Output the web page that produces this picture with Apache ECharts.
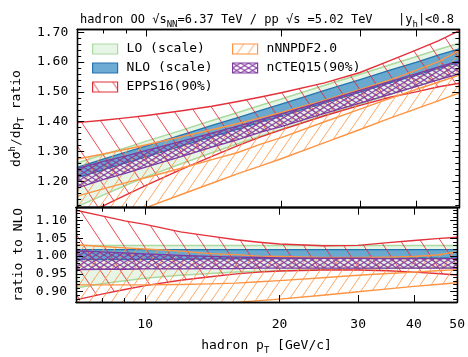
<!DOCTYPE html>
<html><head><meta charset="utf-8">
<script src="https://cdn.jsdelivr.net/npm/echarts@6/dist/echarts.min.js"></script>
<style>html,body{margin:0;padding:0;background:#fff}#c{width:468px;height:357px}</style>
</head><body><div id="c"></div>
<script>
// ---------- data ----------
const pT = [7, 8, 9, 10, 12, 14, 16, 18, 20, 25, 30, 35, 40, 45, 50];

// top panel: dsigma/dpT ratio OO/pp
const loLow   = [1.115,1.154,1.187,1.216,1.260,1.296,1.326,1.352,1.374,1.422,1.459,1.491,1.518,1.542,1.562];
const loHigh  = [1.262,1.290,1.313,1.335,1.372,1.404,1.431,1.455,1.476,1.522,1.559,1.591,1.618,1.643,1.663];
const nloLow  = [1.213,1.239,1.262,1.283,1.319,1.349,1.375,1.399,1.419,1.463,1.499,1.530,1.555,1.579,1.599];
const nloHigh = [1.247,1.275,1.298,1.319,1.356,1.388,1.414,1.438,1.459,1.505,1.541,1.573,1.599,1.624,1.644];
const eppsLow = [1.074,1.118,1.155,1.188,1.241,1.284,1.320,1.349,1.373,1.420,1.455,1.482,1.500,1.517,1.529];
const eppsHigh= [1.397,1.405,1.413,1.421,1.437,1.452,1.468,1.483,1.497,1.530,1.565,1.605,1.640,1.672,1.705];
const nnLow   = [1.028,1.060,1.087,1.113,1.157,1.194,1.226,1.252,1.276,1.330,1.374,1.412,1.443,1.471,1.497];
const nnMid   = [1.151,1.175,1.196,1.213,1.245,1.273,1.297,1.325,1.347,1.400,1.442,1.478,1.508,1.533,1.556];
const nnHigh  = [1.275,1.292,1.308,1.323,1.350,1.373,1.394,1.413,1.431,1.472,1.508,1.540,1.572,1.602,1.638];
const ctLow   = [1.178,1.206,1.228,1.249,1.284,1.315,1.340,1.365,1.384,1.428,1.462,1.492,1.518,1.541,1.560];
const ctHigh  = [1.243,1.267,1.286,1.304,1.335,1.362,1.385,1.407,1.426,1.469,1.505,1.534,1.560,1.584,1.604];

// bottom panel: ratio to NLO
const rLoLow   = [0.910,0.922,0.931,0.938,0.946,0.951,0.955,0.957,0.959,0.962,0.964,0.965,0.966,0.967,0.967];
const rLoHigh  = [1.030,1.030,1.030,1.030,1.030,1.030,1.030,1.030,1.030,1.030,1.030,1.030,1.030,1.030,1.030];
const rNloLow  = [0.990,0.990,0.990,0.991,0.991,0.992,0.992,0.993,0.993,0.994,0.994,0.995,0.995,0.995,0.995];
const rNloHigh = [1.018,1.018,1.018,1.018,1.018,1.018,1.018,1.018,1.018,1.018,1.018,1.018,1.018,1.018,1.018];
const rEppsLow = [0.877,0.893,0.906,0.917,0.932,0.942,0.950,0.955,0.958,0.961,0.961,0.959,0.955,0.951,0.947];
const rEppsHigh= [1.129,1.113,1.099,1.089,1.068,1.056,1.046,1.039,1.034,1.029,1.030,1.038,1.044,1.049,1.053];
const rNnLow   = [0.800,0.820,0.835,0.845,0.856,0.864,0.870,0.875,0.879,0.890,0.900,0.908,0.915,0.920,0.925];
const rNnMid   = [0.919,0.919,0.919,0.919,0.920,0.922,0.924,0.928,0.931,0.939,0.946,0.951,0.955,0.959,0.962];
const rNnHigh  = [1.032,1.027,1.023,1.020,1.014,1.007,1.004,1.000,0.999,0.996,0.996,0.997,0.999,1.003,1.012];
const rCtLow   = [0.962,0.963,0.963,0.964,0.964,0.965,0.965,0.966,0.966,0.966,0.966,0.966,0.966,0.966,0.966];
const rCtHigh  = [1.015,1.012,1.009,1.006,1.002,0.999,0.997,0.996,0.995,0.994,0.994,0.993,0.993,0.993,0.993];

// ticks
const xMajor = [10, 20, 30, 40, 50];
const xMinor = [8, 9];
const yTopMajor = [1.20, 1.30, 1.40, 1.50, 1.60, 1.70];
const yTopMinor = [1.12,1.14,1.16,1.18,1.22,1.24,1.26,1.28,1.32,1.34,1.36,1.38,1.42,1.44,1.46,1.48,1.52,1.54,1.56,1.58,1.62,1.64,1.66,1.68];
const yBotMajor = [0.90, 0.95, 1.00, 1.05, 1.10];
const yBotMinor = [0.88,0.89,0.91,0.92,0.93,0.94,0.96,0.97,0.98,0.99,1.01,1.02,1.03,1.04,1.06,1.07,1.08,1.09,1.11,1.12,1.13];

const names = ['LO (scale)', 'NLO (scale)', 'EPPS16(90%)', 'nNNPDF2.0', 'nCTEQ15(90%)'];

// ---------- styling ----------
const FONT = 'DejaVu Sans Mono';
const L = Math.log10;
const X0 = L(7), X1 = L(50);
const TOP = {min: 1.112, max: 1.709};
const BOT = {min: 0.871, max: 1.136};

function hatch(color, dirs, w, h, lw, bg) {
  const c = document.createElement('canvas');
  c.width = w; c.height = h;
  const g = c.getContext('2d');
  if (bg) { g.fillStyle = bg; g.fillRect(0, 0, w, h); }
  g.strokeStyle = color; g.lineWidth = lw;
  dirs.forEach(d => {
    for (let k = -1; k <= 1; k++) {
      g.beginPath();
      if (d === 'back') { g.moveTo(k * w - w, -h); g.lineTo(k * w + 2 * w, 2 * h); }
      else { g.moveTo(k * w - w, 2 * h); g.lineTo(k * w + 2 * w, -h); }
      g.stroke();
    }
  });
  return {image: c, repeat: 'repeat'};
}

const ST = {
  lo:   {fill: 'rgba(161,217,155,0.25)', stroke: 'rgba(161,214,150,0.9)', lw: 1.5},
  nlo:  {fill: 'rgba(74,150,201,0.8)', stroke: '#2474b0', lw: 1.3},
  epps: {fill: hatch('rgba(226,40,50,0.85)', ['back'], 20, 30, 1), stroke: '#e3303a', lw: 1.4},
  nn:   {fill: hatch('rgba(253,150,70,0.85)', ['fwd'], 11, 16, 1), stroke: '#fd9444', lw: 1.4},
  ct:   {fill: hatch('rgba(130,55,160,0.85)', ['fwd', 'back'], 8, 5, 1.3), stroke: '#7d3aa0', lw: 1.3}
};

function band(name, xi, yi, low, high, st, mid, z) {
  return {
    type: 'custom', name, xAxisIndex: xi, yAxisIndex: yi, clip: true, z: z,
    data: pT.map((p, i) => [L(p), low[i], high[i]]),
    encode: {x: 0, y: [1, 2]},
    itemStyle: {color: st.fill, borderColor: st.stroke, borderWidth: 1.2},
    renderItem: (params, api) => {
      if (params.dataIndex !== 0) return;
      const up = [], dn = [], md = [];
      for (let i = 0; i < pT.length; i++) {
        up.push(api.coord([L(pT[i]), high[i]]));
        dn.push(api.coord([L(pT[i]), low[i]]));
        if (mid) md.push(api.coord([L(pT[i]), mid[i]]));
      }
      const cs = params.coordSys;
      const kids = [
        {type: 'polygon', shape: {points: up.concat(dn.slice().reverse())}, style: {fill: st.fill, stroke: null}},
        {type: 'polyline', shape: {points: up}, style: {fill: null, stroke: st.stroke, lineWidth: st.lw}},
        {type: 'polyline', shape: {points: dn}, style: {fill: null, stroke: st.stroke, lineWidth: st.lw}}
      ];
      if (mid) kids.push({type: 'polyline', shape: {points: md}, style: {fill: null, stroke: st.stroke, lineWidth: st.lw}});
      return {type: 'group', children: kids,
        clipPath: {type: 'rect', shape: {x: cs.x, y: cs.y, width: cs.width, height: cs.height}}};
    }
  };
}

const rich = {
  sub: {fontFamily: FONT, fontSize: 9, verticalAlign: 'bottom', lineHeight: 18, padding: [5, 0, 0, 0]},
  sup: {fontFamily: FONT, fontSize: 9, verticalAlign: 'top', lineHeight: 18, padding: [0, 0, 5, 0]}
};

const grids = [
  {left: 76, right: 8.7, top: 29.5, height: 178.2, show: false},
  {left: 76, right: 8.7, top: 207.7, height: 94.3, show: false}
];

function xAx(gi, pos, vals, len, extra) {
  return Object.assign({
    type: 'value', gridIndex: gi, position: pos, min: X0, max: X1, z: 10,
    splitLine: {show: false},
    axisLine: {show: true, onZero: false, lineStyle: {color: '#000', width: 1.3}},
    axisTick: {show: true, inside: true, length: len, customValues: vals.map(L), lineStyle: {color: '#000', width: 1}},
    axisLabel: {show: false}
  }, extra || {});
}
function yAx(gi, pos, rng, vals, len, extra) {
  return Object.assign({
    type: 'value', gridIndex: gi, position: pos, min: rng.min, max: rng.max, z: 10,
    splitLine: {show: false},
    axisLine: {show: true, onZero: false, lineStyle: {color: '#000', width: 1.3}},
    axisTick: {show: true, inside: true, length: len, customValues: vals, lineStyle: {color: '#000', width: 1}},
    axisLabel: {show: false}
  }, extra || {});
}

const xAxes = [
  xAx(0, 'bottom', xMajor, 7),
  xAx(0, 'bottom', xMinor, 4),
  xAx(0, 'top', xMajor, 7),
  xAx(0, 'top', xMinor, 4),
  xAx(1, 'bottom', xMajor, 7, {
    axisLabel: {show: true, customValues: xMajor.map(L), formatter: v => String(Math.round(Math.pow(10, v))),
      fontFamily: FONT, fontSize: 13, color: '#000', margin: 16},
    name: 'hadron p{sub|T} [GeV/c]', nameLocation: 'middle', nameGap: 35,
    nameTextStyle: {fontFamily: FONT, fontSize: 13, color: '#000', rich: rich}
  }),
  xAx(1, 'bottom', xMinor, 4),
  xAx(1, 'top', xMajor, 7),
  xAx(1, 'top', xMinor, 4)
];

const yAxes = [
  yAx(0, 'left', TOP, yTopMajor, 7, {
    axisLabel: {show: true, customValues: yTopMajor, formatter: v => v.toFixed(2),
      fontFamily: FONT, fontSize: 13, color: '#000', margin: 9},
    name: 'dσ{sup|h}/dp{sub|T} ratio', nameLocation: 'middle', nameGap: 47, nameRotate: 90,
    nameTextStyle: {fontFamily: FONT, fontSize: 13, color: '#000', rich: rich}
  }),
  yAx(0, 'left', TOP, yTopMinor, 4),
  yAx(0, 'right', TOP, yTopMajor, 7),
  yAx(0, 'right', TOP, yTopMinor, 4),
  yAx(1, 'left', BOT, yBotMajor, 7, {
    axisLabel: {show: true, customValues: yBotMajor, formatter: v => v.toFixed(2),
      fontFamily: FONT, fontSize: 13, color: '#000', margin: 9},
    name: 'ratio to NLO', nameLocation: 'middle', nameGap: 47, nameRotate: 90,
    nameTextStyle: {fontFamily: FONT, fontSize: 13, color: '#000'}
  }),
  yAx(1, 'left', BOT, yBotMinor, 4),
  yAx(1, 'right', BOT, yBotMajor, 7),
  yAx(1, 'right', BOT, yBotMinor, 4)
];

const series = [
  band(names[0], 0, 0, loLow, loHigh, ST.lo, null, 2),
  band(names[1], 0, 0, nloLow, nloHigh, ST.nlo, null, 3),
  band(names[2], 0, 0, eppsLow, eppsHigh, ST.epps, null, 4),
  band(names[3], 0, 0, nnLow, nnHigh, ST.nn, nnMid, 5),
  band(names[4], 0, 0, ctLow, ctHigh, ST.ct, null, 6),
  band(names[0], 4, 4, rLoLow, rLoHigh, ST.lo, null, 2),
  band(names[1], 4, 4, rNloLow, rNloHigh, ST.nlo, null, 3),
  band(names[2], 4, 4, rEppsLow, rEppsHigh, ST.epps, null, 4),
  band(names[3], 4, 4, rNnLow, rNnHigh, ST.nn, rNnMid, 5),
  band(names[4], 4, 4, rCtLow, rCtHigh, ST.ct, null, 6)
];

const legendCommon = {
  orient: 'vertical', icon: 'rect', itemWidth: 25, itemHeight: 10, itemGap: 5, padding: 0,
  selectedMode: false,
  itemStyle: {borderWidth: 1.2},
  textStyle: {fontFamily: FONT, fontSize: 13, color: '#000', lineHeight: 14, padding: [0, 0, 0, 4]}
};

const chart = echarts.init(document.getElementById('c'), null, {renderer: 'canvas'});
chart.setOption({
  animation: false,
  backgroundColor: '#fff',
  title: [
    {text: 'hadron OO √s{sub|NN}=6.37 TeV / pp √s =5.02 TeV', left: 75, top: 6,
      textStyle: {fontFamily: FONT, fontSize: 12, fontWeight: 'normal', color: '#000', rich: rich}},
    {text: '|y{sub|h}|<0.8', right: 9, top: 6,
      textStyle: {fontFamily: FONT, fontSize: 12, fontWeight: 'normal', color: '#000', rich: rich}}
  ],
  legend: [
    Object.assign({left: 92, top: 42, data: names.slice(0, 3)}, legendCommon),
    Object.assign({left: 232, top: 42, data: names.slice(3)}, legendCommon)
  ],
  grid: grids,
  xAxis: xAxes,
  yAxis: yAxes,
  series: series
});
</script>
</body></html>
